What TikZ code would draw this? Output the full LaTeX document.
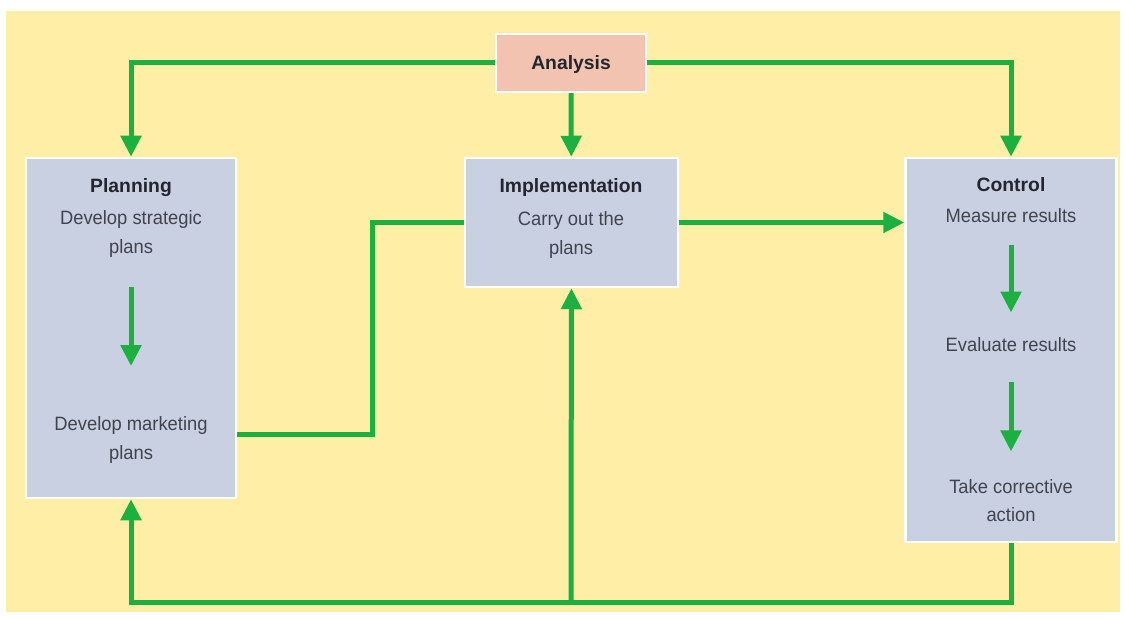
\documentclass[tikz,border=0pt]{standalone}
\usepackage{fontspec}
\setmainfont{Liberation Sans}
\newfontfamily\itemfont{Liberation Sans}[FakeStretch=0.95]
\usetikzlibrary{arrows.meta}

\definecolor{bgyellow}{HTML}{FFEEA6}
\definecolor{boxblue}{HTML}{C8D0E2}
\definecolor{boxpink}{HTML}{F2C3B1}
\definecolor{arrowgreen}{HTML}{1BB040}
\definecolor{titlegray}{HTML}{23262E}
\definecolor{itemgray}{HTML}{41444D}

\begin{document}
\begin{tikzpicture}[x=0.2mm,y=-0.2mm,
    flow/.style={draw=arrowgreen, line width=1mm, -{Triangle[width=4mm,length=4.2mm]}},
    link/.style={draw=arrowgreen, line width=1mm},
    box/.style={draw=white, line width=0.5mm, fill=boxblue},
    title/.style={font=\fontsize{11}{16}\selectfont\bfseries, text=titlegray, inner sep=0pt},
    item/.style={font=\itemfont\fontsize{11}{16}\selectfont, text=itemgray, align=center, inner sep=0pt}]

    % background
    \useasboundingbox (0,0) rectangle (1126,619);
    \fill[bgyellow] (6,11) rectangle (1120,612);

    % boxes
    \node[box, fill=boxpink, minimum width=30mm, minimum height=11.6mm] (ana) at (571,63) {};
    \node[title] (anat) at (571,65) {Analysis};

    \node[box, minimum width=42mm, minimum height=68mm] (plan) at (131,328) {};
    \node[title] (plant) at (131,188) {Planning};
    \node[item] (strat) at (131,234) {Develop strategic\\plans};
    \node[item] (mkt) at (131,440) {Develop marketing\\plans};

    \node[box, minimum width=42.6mm, minimum height=25.8mm] (impl) at (571.5,222.5) {};
    \node[title] (implt) at (571,188) {Implementation};
    \node[item] (carry) at (571,235) {Carry out the\\plans};

    \node[box, minimum width=42.2mm, minimum height=76.8mm] (ctrl) at (1011,350) {};
    \node[title] (ctrlt) at (1011,185) {Control};
    \node[item] (meas) at (1011,216) {Measure results};
    \node[item] (eval) at (1011,345) {Evaluate results};
    \node[item] (act) at (1011,501) {Take corrective\\action};

    \coordinate (jog) at (372,330);
    \coordinate (base) at (571,602);

    % connectors
    \draw[flow] (ana) -| (plan);
    \draw[flow] (ana) -- (impl);
    \draw[flow] (ana) -| (ctrl);
    \draw[link] (plan.east |- 0,435) -| (jog) |- (impl.west);
    \draw[flow] (impl.east) -- (impl.east -| ctrl.west);
    \draw[flow] (ctrl) |- (base) -| (plan);
    \draw[flow] (base) -- (impl);

    % steps inside the boxes
    \draw[flow, shorten <=6mm, shorten >=10.1mm] (strat) -- (mkt);
    \draw[flow, shorten <=4.4mm, shorten >=5mm] (meas) -- (eval);
    \draw[flow, shorten <=6mm, shorten >=5.6mm] (eval) -- (act);
\end{tikzpicture}
\end{document}
